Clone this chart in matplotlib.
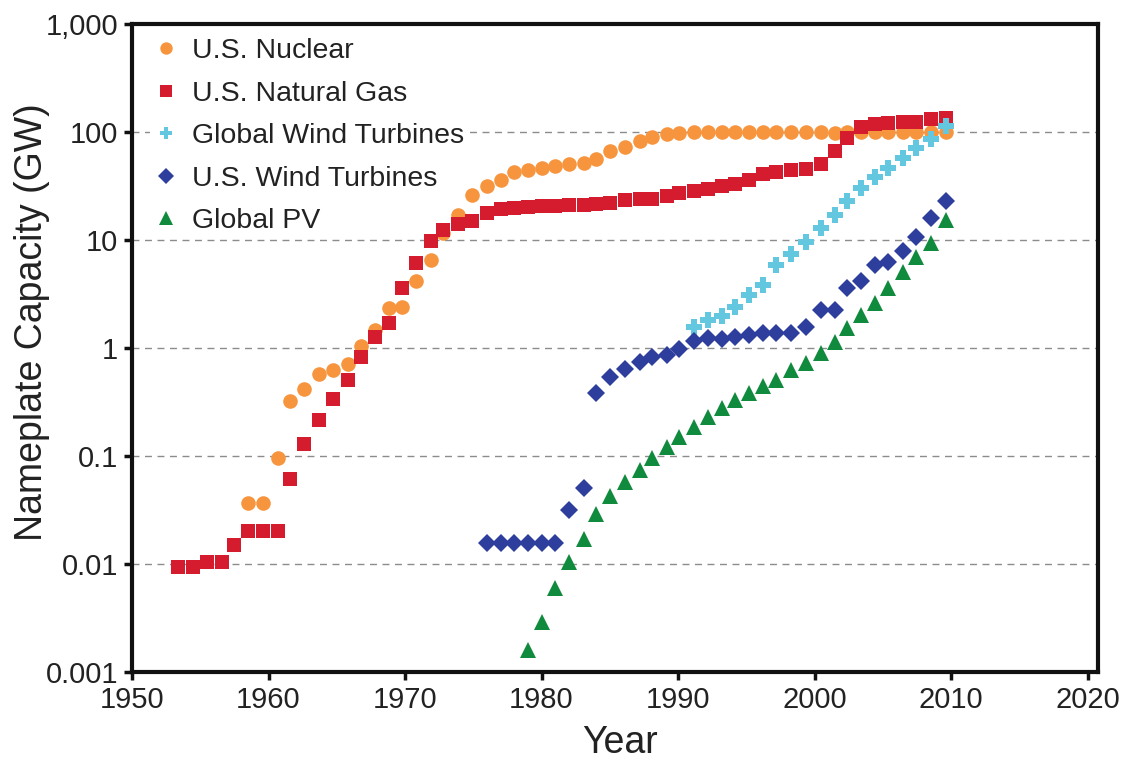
import matplotlib
matplotlib.use("Agg")
import matplotlib.pyplot as plt
from matplotlib.ticker import FixedLocator, FixedFormatter

plt.rcParams['font.family'] = ['Liberation Sans', 'DejaVu Sans']

# plotted year values, one per calendar year 1953..2008
years = [1953.4, 1954.5, 1955.5, 1956.6, 1957.5, 1958.5, 1959.6, 1960.7, 1961.6, 1962.6,
         1963.7, 1964.7, 1965.8, 1966.8, 1967.8, 1968.8, 1969.8, 1970.8, 1971.9, 1972.8,
         1973.9, 1974.9, 1976.0, 1977.0, 1978.0, 1979.0, 1980.0, 1981.0, 1982.0, 1983.1,
         1984.0, 1985.0, 1986.1, 1987.2, 1988.1, 1989.2, 1990.1, 1991.2, 1992.2, 1993.2,
         1994.2, 1995.2, 1996.2, 1997.2, 1998.3, 1999.4, 2000.5, 2001.5, 2002.4, 2003.4,
         2004.4, 2005.4, 2006.5, 2007.4, 2008.5, 2009.6]

# capacity in GW
us_gas = [0.0093, 0.0093, 0.0105, 0.0105, 0.015, 0.02, 0.02, 0.02, 0.061, 0.128,
          0.215, 0.34, 0.51, 0.83, 1.27, 1.7, 3.57, 6.1, 9.7, 12.4,
          14.1, 15.1, 17.7, 19.2, 19.7, 20.1, 20.6, 20.6, 21.1, 21.1,
          21.5, 22.2, 23.5, 24, 24, 25.5, 27, 28.6, 29.5, 31.6,
          33, 36, 41, 43, 44, 45, 50.6, 66, 87.5, 110,
          118, 122, 125, 125, 131, 134]
gas_start = 0

us_nuclear = [0.037, 0.037, 0.095, 0.32, 0.42, 0.58, 0.625, 0.71, 1.04, 1.47,
              2.33, 2.4, 4.2, 6.5, 11.5, 17, 26, 31.6, 36, 43,
              44.5, 46, 48, 50.6, 52, 56, 66, 73, 83, 89,
              96, 98, 99, 99, 99, 99, 99, 99, 99, 99,
              99, 99, 98, 99, 99, 100, 100, 100, 100, 100, 100]
nuclear_start = 5

global_wind = [1.57, 1.82, 1.98, 2.41, 3.1, 3.83, 5.9, 7.4, 9.6, 12.8,
               17, 23, 30, 38, 46, 57, 71, 85.5, 114]
gwind_start = 37

us_wind = [0.0155, 0.0155, 0.0155, 0.0155, 0.0155, 0.0155, 0.0316, 0.051, 0.38, 0.54,
           0.64, 0.74, 0.83, 0.86, 0.97, 1.17, 1.23, 1.2, 1.26, 1.32,
           1.37, 1.37, 1.37, 1.57, 2.23, 2.26, 3.6, 4.2, 5.9, 6.2,
           7.9, 10.7, 16.1, 23]
uswind_start = 22

global_pv = [0.0016, 0.0029, 0.006, 0.0105, 0.017, 0.029, 0.043, 0.057, 0.074, 0.095,
             0.12, 0.149, 0.187, 0.231, 0.277, 0.33, 0.386, 0.445, 0.51, 0.62,
             0.73, 0.9, 1.14, 1.52, 2.02, 2.6, 3.57, 5.0, 7.0, 9.4, 15.3]
pv_start = 25

ytick_vals = [0.001, 0.01, 0.1, 1, 10, 100, 1000]
ytick_labels = ["0.001", "0.01", "0.1", "1", "10", "100", "1,000"]
xtick_vals = [1950, 1960, 1970, 1980, 1990, 2000, 2010, 2020]

series = [
    ("U.S. Nuclear", us_nuclear, nuclear_start, "o", 10.5, "#F7953F"),
    ("U.S. Natural Gas", us_gas, gas_start, "s", 9.5, "#D41C2E"),
    ("Global Wind Turbines", global_wind, gwind_start, "P", 11, "#63C7E0"),
    ("U.S. Wind Turbines", us_wind, uswind_start, "D", 9, "#2D3E9C"),
    ("Global PV", global_pv, pv_start, "^", 12, "#108B3E"),
]

fig = plt.figure(figsize=(11.43, 7.61), dpi=100)
ax = fig.add_axes([0.1155, 0.117, 0.845, 0.8515])

for name, vals, start, mk, ms, col in series:
    xs = years[start:start + len(vals)]
    ax.plot(xs, vals, linestyle="none", marker=mk, markersize=ms,
            color=col, markeredgewidth=0, label=name, zorder=3)

ax.set_yscale("log")
ax.set_ylim(0.001, 1000)
ax.set_xlim(1950, 2020.75)
ax.yaxis.set_major_locator(FixedLocator(ytick_vals))
ax.yaxis.set_major_formatter(FixedFormatter(ytick_labels))
ax.yaxis.set_minor_locator(FixedLocator([]))
ax.set_xticks(xtick_vals)
ax.set_xticklabels([str(v) for v in xtick_vals])

for v in ytick_vals[1:-1]:
    ax.axhline(v, color="#8c8c8c", linestyle=(0, (5, 4)), linewidth=1.0, zorder=0)

for s in ax.spines.values():
    s.set_linewidth(3)
    s.set_color("#111111")
ax.tick_params(axis="both", which="major", direction="out", length=6, width=2.5,
               labelsize=21, color="#111111", labelcolor="#222222", pad=4)

ax.set_xlabel("Year", fontsize=27, color="#222222")
ax.set_ylabel("Nameplate Capacity (GW)", fontsize=27, color="#222222")
ax.xaxis.set_label_coords(0.505, -0.082)
ax.yaxis.set_label_coords(-0.085, 0.54)

leg = ax.legend(loc="upper left", bbox_to_anchor=(0.019, 0.98), borderaxespad=0,
                fontsize=20.5, frameon=True, fancybox=False, borderpad=0.05,
                handlelength=1.0, handletextpad=0.4, labelspacing=0.58,
                markerscale=0.85)
leg.get_frame().set_facecolor("white")
leg.get_frame().set_edgecolor("none")
leg.get_frame().set_alpha(1)
leg.set_zorder(1)
for t in leg.get_texts():
    t.set_color("#222222")

fig.savefig("out.png", dpi=100)
